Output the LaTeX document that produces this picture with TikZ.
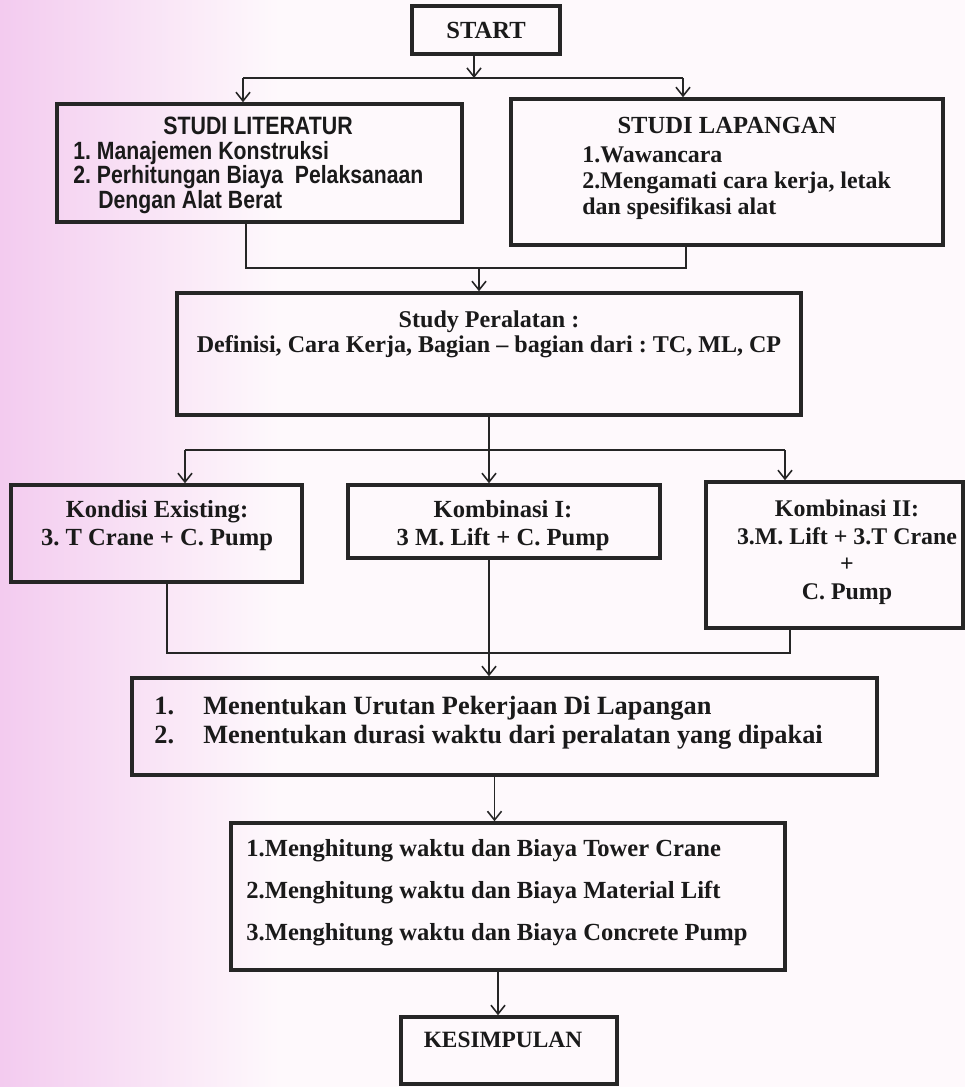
\documentclass[tikz,border=0pt]{standalone}
\usepackage{fontspec}
\setmainfont{Liberation Serif}
\newfontfamily\narrowsans[FakeStretch=0.85]{Liberation Sans}
\usetikzlibrary{arrows.meta}
\frenchspacing
\definecolor{inkline}{HTML}{262626}
\definecolor{inktext}{HTML}{1A1A1A}
\definecolor{pinkedge}{HTML}{F3CBEF}
\definecolor{pinkpaper}{HTML}{FEF9FC}
\tikzset{
  box/.style={draw=inkline, line width=2pt, inner sep=0pt},
  txt/.style={text=inktext, inner sep=0pt, font=\fontsize{14}{15.8}\selectfont\bfseries},
  link/.style={draw=inkline, line width=1.2pt},
  arr/.style={draw=inkline, line width=0.9pt, -{Straight Barb[length=5pt,width=8pt]}},
}
\begin{document}
\begin{tikzpicture}[x=0.02cm, y=-0.02cm]
    % paper
    \useasboundingbox (0,0) rectangle (965,1087);
    \shade[left color=pinkedge, right color=pinkpaper] (0,0) rectangle (280,1087);
    \fill[pinkpaper] (280,0) rectangle (965,1087);

    % boxes
    \node[box, txt, minimum width=2.96cm, minimum height=0.96cm] (start) at (486,30) {START};
    \node[box, minimum width=8.1cm, minimum height=2.36cm] (lit) at (259.5,163) {};
    \node[box, minimum width=8.64cm, minimum height=2.92cm] (lap) at (727,172) {};
    \node[box, minimum width=12.48cm, minimum height=2.44cm] (study) at (489,354) {};
    \node[box, minimum width=5.82cm, minimum height=1.94cm] (kond) at (156.5,533.5) {};
    \node[box, minimum width=6.24cm, minimum height=1.46cm] (komb1) at (504,521.5) {};
    \node[box, minimum width=5.14cm, minimum height=2.92cm] (komb2) at (834.5,555) {};
    \node[box, minimum width=14.9cm, minimum height=1.94cm] (menent) at (504.5,726.5) {};
    \node[box, minimum width=11.08cm, minimum height=2.94cm] (hitung) at (508,896.5) {};
    \node[box, minimum width=4.32cm, minimum height=1.34cm] (kesimp) at (509,1050.5) {};

    % texts
    \node[txt, anchor=north, font=\narrowsans\fontsize{14.3}{14}\selectfont\bfseries] (litT) at (258,117) {STUDI LITERATUR};
    \node[txt, anchor=north west, align=left, font=\narrowsans\fontsize{14.2}{13.9}\selectfont\bfseries] (litL) at (73,141)
        {1. Manajemen Konstruksi\\2. Perhitungan Biaya\ \ Pelaksanaan\\\hspace*{0.5cm}Dengan Alat Berat};
    \node[txt, anchor=north] (lapT) at (727,117) {STUDI LAPANGAN};
    \node[txt, anchor=north west, align=left, font=\fontsize{13.6}{15}\selectfont\bfseries] (lapL) at (582,146)
        {1.Wawancara\\2.Mengamati cara kerja, letak\\dan spesifikasi alat};
    \node[txt, anchor=north, align=center, font=\fontsize{13.7}{14.7}\selectfont\bfseries] (studyT) at (489,310)
        {Study Peralatan :\\Definisi, Cara Kerja, Bagian -- bagian dari : TC, ML, CP};
    \node[txt, anchor=north, align=center] (kondT) at (157,500) {Kondisi Existing:\\3. T Crane + C. Pump};
    \node[txt, anchor=north, align=center] (komb1T) at (503,500) {Kombinasi I:\\3 M. Lift + C. Pump};
    \node[txt, anchor=north, align=center, font=\fontsize{13.6}{15.6}\selectfont\bfseries] (komb2T) at (847,500)
        {Kombinasi II:\\3.M. Lift + 3.T Crane\\+\\C. Pump};
    \node[txt, anchor=north west, align=left, font=\fontsize{15}{16.4}\selectfont\bfseries] (menT) at (154,696)
        {\makebox[0.98cm][l]{1.}Menentukan Urutan Pekerjaan Di Lapangan\\\makebox[0.98cm][l]{2.}Menentukan durasi waktu dari peralatan yang dipakai};
    \node[txt, anchor=north west, align=left, font=\fontsize{14}{24}\selectfont\bfseries] (hitT) at (246,839)
        {1.Menghitung waktu dan Biaya Tower Crane\\2.Menghitung waktu dan Biaya Material Lift\\3.Menghitung waktu dan Biaya Concrete Pump};
    \node[txt, anchor=north, font=\fontsize{13.3}{15}\selectfont\bfseries] (kesT) at (503,1032) {KESIMPULAN};

    % start -> two studies
    \coordinate (sl) at (243,78);
    \coordinate (sr) at (683,78);
    \draw[arr] ([xshift=-0.24cm]start.south) -- ([xshift=-0.24cm]start.south |- sl);
    \draw[link] (sl) -- (sr);
    \draw[arr] (sl) -- (sl |- lit.north);
    \draw[arr] (sr) -- (sr |- lap.north);

    % two studies -> study peralatan
    \coordinate (ml) at (246,268);
    \coordinate (mr) at (686,268);
    \draw[link] (ml |- lit.south) -- (ml) -- (mr) -- (mr |- lap.south);
    \draw[arr] ([xshift=-0.2cm]study.north |- ml) -- ([xshift=-0.2cm]study.north);

    % study peralatan -> three options
    \coordinate (kl) at (185,450);
    \coordinate (kr) at (785,450);
    \draw[link] (kl) -- (kr);
    \draw[arr] (study.south) -- (study.south |- komb1.north);
    \draw[arr] (kl) -- (kl |- kond.north);
    \draw[arr] (kr) -- (kr |- komb2.north);

    % three options -> menentukan
    \coordinate (nl) at (167,653);
    \coordinate (nr) at (790,653);
    \draw[link] (nl |- kond.south) -- (nl) -- (nr) -- (nr |- komb2.south);
    \draw[arr] ([xshift=-0.3cm]komb1.south) -- ([xshift=-0.3cm]komb1.south |- menent.north);

    \draw[arr] ([xshift=-0.2cm]menent.south) -- ([xshift=-0.2cm]menent.south |- hitung.north);
    \draw[arr] ([xshift=-0.2cm]hitung.south) -- ([xshift=-0.2cm]hitung.south |- kesimp.north);
\end{tikzpicture}
\end{document}
